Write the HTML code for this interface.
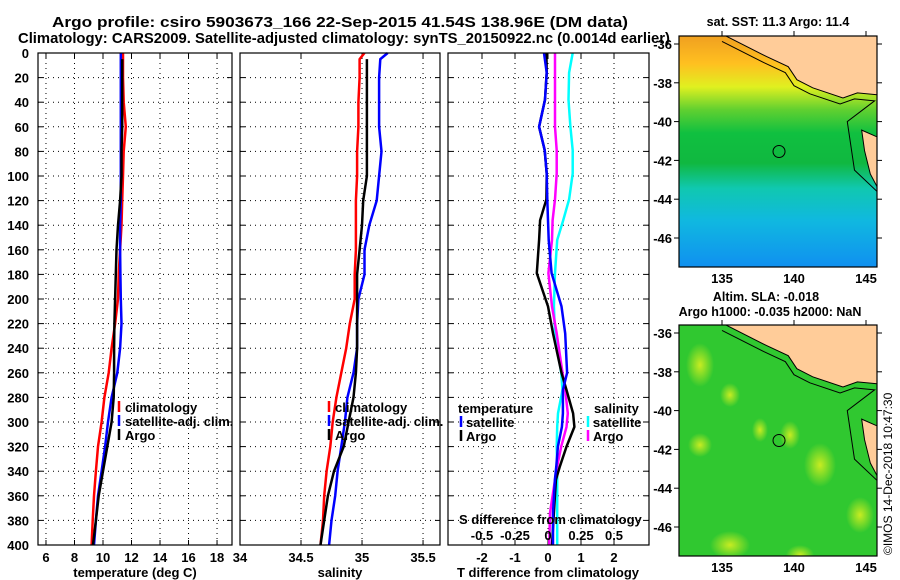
<!DOCTYPE html>
<html><head><meta charset="utf-8">
<style>
body{margin:0;background:#fff;}
svg{display:block;font-family:"Liberation Sans",sans-serif;font-weight:bold;}
</style></head>
<body>
<svg id="fig" width="900" height="580" viewBox="0 0 900 580" xmlns="http://www.w3.org/2000/svg">
<defs>
<linearGradient id="sstGrad" x1="0" y1="0" x2="0" y2="1">
<stop offset="0" stop-color="#f0a020"/><stop offset="0.12" stop-color="#ffc020"/>
<stop offset="0.22" stop-color="#e0f020"/><stop offset="0.32" stop-color="#60d030"/>
<stop offset="0.42" stop-color="#10c040"/><stop offset="0.55" stop-color="#10b840"/>
<stop offset="0.66" stop-color="#10c8b0"/><stop offset="0.8" stop-color="#10b8e0"/>
<stop offset="1" stop-color="#1090f0"/></linearGradient>
<radialGradient id="blob"><stop offset="0" stop-color="#d8f020" stop-opacity="0.9"/><stop offset="1" stop-color="#d8f020" stop-opacity="0"/></radialGradient>
<clipPath id="clipTop"><rect x="679" y="36" width="198" height="231"/></clipPath>
<clipPath id="clipBot"><rect x="679" y="325" width="198" height="231"/></clipPath>
</defs>
<text x="52" y="27" font-size="15" textLength="576" lengthAdjust="spacingAndGlyphs">Argo profile: csiro 5903673_166 22-Sep-2015 41.54S 138.96E (DM data)</text>
<text x="18" y="43" font-size="15" textLength="652" lengthAdjust="spacingAndGlyphs">Climatology: CARS2009. Satellite-adjusted climatology: synTS_20150922.nc (0.0014d earlier)</text>
<g id="plots"></g>
<text x="778" y="26" text-anchor="middle" font-size="12.5">sat. SST: 11.3 Argo: 11.4</text>
<text x="766" y="301" text-anchor="middle" font-size="12.5">Altim. SLA: -0.018</text>
<text x="770" y="316" text-anchor="middle" font-size="12.5">Argo h1000: -0.035 h2000: NaN</text>
<text transform="translate(892,555) rotate(-90)" font-size="12" font-weight="normal">©IMOS 14-Dec-2018 10:47:30</text>
</svg>
<script>
// ---- profile data ----
const depthsClim = [0,5,20,40,60,80,100,120,140,160,180,200,220,240,260,280,300,320,340,360,380,400];
const depthsArgo = [5,20,40,60,80,100,120,140,160,180,200,220,240,260,280,300,320,340,360,380,400];
const tempClim = [11.4,11.4,11.4,11.45,11.6,11.45,11.4,11.35,11.3,11.2,11.1,11.05,10.85,10.6,10.4,10.1,9.9,9.65,9.5,9.37,9.28,9.2];
const tempSat  = [11.25,11.25,11.25,11.25,11.25,11.25,11.25,11.25,11.2,11.2,11.22,11.25,11.3,11.2,11.0,10.6,10.35,10.15,9.9,9.65,9.5,9.37];
const tempArgo = [11.35,11.35,11.35,11.35,11.3,11.3,11.2,11.05,10.95,10.9,10.85,10.8,10.78,10.78,10.75,10.6,10.3,10.0,9.7,9.5,9.3];
const salClim = [35.02,34.98,34.98,34.97,34.97,34.96,34.96,34.95,34.95,34.95,34.94,34.94,34.9,34.87,34.83,34.79,34.76,34.74,34.71,34.69,34.68,34.66];
const salSat  = [35.21,35.15,35.14,35.14,35.14,35.16,35.14,35.12,35.06,35.02,35.02,34.97,34.96,34.96,34.93,34.88,34.86,34.83,34.80,34.78,34.75,34.73];
const salArgo = [35.04,35.04,35.04,35.04,35.04,35.04,35.01,35.0,34.98,34.96,34.96,34.96,34.96,34.95,34.93,34.89,34.85,34.77,34.72,34.69,34.66];
const depthsDiff = [0,16,38,60,79,98,119,136,152,179,206,228,260,274,293,304,320,336,347,374,400];
const tDiffSat  = [-0.12,-0.04,-0.09,-0.27,-0.1,-0.04,-0.02,0,0.02,0.11,0.41,0.52,0.58,0.45,0.45,0.42,0.3,0.25,0.21,0.15,0.15];
const tDiffArgo = [-0.05,-0.04,-0.09,-0.27,-0.1,-0.04,-0.05,-0.24,-0.27,-0.34,0,0.15,0.41,0.56,0.76,0.8,0.56,0.36,0.24,0.18,0.12];
const sDiffSat  = [0.187,0.16,0.155,0.17,0.187,0.187,0.16,0.115,0.07,0.053,0.045,0.053,0.1,0.11,0.076,0.07,0.066,0.07,0.07,0.07,0.07];
const sDiffArgo = [0.053,0.053,0.053,0.053,0.066,0.066,0.053,0.035,0.03,0.003,0.03,0.066,0.11,0.13,0.15,0.14,0.1,0.07,0.053,0.015,0.01];
const depthTicks = [0,20,40,60,80,100,120,140,160,180,200,220,240,260,280,300,320,340,360,380,400];
const tempTicks = [6,8,10,12,14,16,18];
const salTicks = [34,34.5,35,35.5];
const tDiffTicks = [-2,-1,0,1,2];
const sDiffTicks = [-0.5,-0.25,0,0.25,0.5];
const sDiffTickLabels = ["-0.5","-0.25","0","0.25","0.5"];
const mapLonTicks = [135,140,145];
const mapLatTicks = [-36,-38,-40,-42,-44,-46];
// land outline (lon, lat)
const coastLon = [135.2,138.1,139.6,140.2,141.3,143.4,144.4,145.8];
const coastLat = [-35.56,-36.65,-37.17,-37.84,-38.26,-38.78,-38.52,-38.62];
const tasLon = [144.7,145.8,145.8,145.3,144.9];
const tasLat = [-40.44,-40.8,-43.4,-42.7,-41.5];
const argoLon = 138.96, argoLat = -41.54;

const NS='http://www.w3.org/2000/svg';
const root=document.getElementById('plots');
function el(tag,attrs,parent){const e=document.createElementNS(NS,tag);for(const k in attrs)e.setAttribute(k,attrs[k]);(parent||root).appendChild(e);return e;}
const Y0=53,Y1=545;
const yD=d=>Y0+(d/400)*(Y1-Y0);

function panel(name,x0,x1,vmin,vmax,ticks,labels){
  const g=el('g',{});
  
  
  const xs=v=>x0+(v-vmin)/(vmax-vmin)*(x1-x0);
  el('rect',{x:x0,y:Y0,width:x1-x0,height:Y1-Y0,fill:'#fff',stroke:'none'},g);
  depthTicks.forEach(d=>{ if(d>0&&d<400){
    const l=el('line',{x1:x0,x2:x1,y1:yD(d),y2:yD(d),stroke:'#000','stroke-width':1,'stroke-dasharray':'1,4'},g);
    
    
    el('line',{x1:x0,x2:x0+5,y1:yD(d),y2:yD(d),stroke:'#000'},g);
    el('line',{x1:x1-5,x2:x1,y1:yD(d),y2:yD(d),stroke:'#000'},g);
  }});
  ticks.forEach((t,i)=>{
    const x=xs(t);
    if(x>x0+1&&x<x1-1){
      const l=el('line',{x1:x,x2:x,y1:Y0,y2:Y1,stroke:'#000','stroke-width':1,'stroke-dasharray':'1,4'},g);
      
      
      el('line',{x1:x,x2:x,y1:Y0,y2:Y0+5,stroke:'#000'},g);
      el('line',{x1:x,x2:x,y1:Y1-5,y2:Y1,stroke:'#000'},g);
    }
    const tx=el('text',{x:x,y:Y1+17,'text-anchor':'middle','font-size':13},g);
    tx.textContent=labels?labels[i]:String(t);
    
    
  });
  return {g,xs,x0,x1};
}
function series(p,depths,vals,color,name,scale){
  const pts=vals.map((v,i)=>(p.xs(v*(scale||1))).toFixed(1)+','+yD(depths[i]).toFixed(1)).join(' ');
  const pl=el('polyline',{points:pts,fill:'none',stroke:color,'stroke-width':2.5,'stroke-linejoin':'round'},p.g);
  
  
}
function frame(p){el('rect',{x:p.x0,y:Y0,width:p.x1-p.x0,height:Y1-Y0,fill:'none',stroke:'#000','stroke-width':1.2},p.g);}
function legendItem(g,x,y,color,label,mx){
  el('line',{x1:mx,x2:mx,y1:y-11,y2:y,stroke:color,'stroke-width':2.5},g);
  const t=el('text',{x:x,y:y,'font-size':13},g);t.textContent=label;
  
  
}

// Panel 1 temperature
const p1=panel('temperature-panel',38,232,5.44,19.05,tempTicks);
series(p1,depthsClim,tempClim,'#ff0000','temp-climatology-line');
series(p1,depthsClim,tempSat,'#0000ff','temp-satellite-line');
series(p1,depthsArgo,tempArgo,'#000000','temp-argo-line');
frame(p1);
legendItem(p1.g,125,412,'#ff0000','climatology',119);
legendItem(p1.g,125,426,'#0000ff','satellite-adj. clim.',119);
legendItem(p1.g,125,440,'#000000','Argo',119);
depthTicks.forEach(d=>{const t=el('text',{x:29,y:yD(d)+5,'text-anchor':'end','font-size':13});t.textContent=d;
  
  });

// Panel 2 salinity
const p2=panel('salinity-panel',240,440,34,35.639,salTicks);
series(p2,depthsClim,salClim,'#ff0000','sal-climatology-line');
series(p2,depthsClim,salSat,'#0000ff','sal-satellite-line');
series(p2,depthsArgo,salArgo,'#000000','sal-argo-line');
frame(p2);
legendItem(p2.g,335,412,'#ff0000','climatology',329);
legendItem(p2.g,335,426,'#0000ff','satellite-adj. clim.',329);
legendItem(p2.g,335,440,'#000000','Argo',329);

// Panel 3 differences
const p3=panel('difference-panel',448,649,-3.03,3.06,tDiffTicks);
series(p3,depthsDiff,sDiffSat,'#00ffff','s-diff-satellite-line',4);
series(p3,depthsDiff,sDiffArgo,'#ff00ff','s-diff-argo-line',4);
series(p3,depthsDiff,tDiffArgo,'#000000','t-diff-argo-line');
series(p3,depthsDiff,tDiffSat,'#0000ff','t-diff-satellite-line');
frame(p3);
let tt=el('text',{x:458,y:413,'font-size':13},p3.g);tt.textContent='temperature';
legendItem(p3.g,466,427,'#0000ff','satellite',461);
legendItem(p3.g,466,441,'#000000','Argo',461);
tt=el('text',{x:594,y:413,'font-size':13},p3.g);tt.textContent='salinity';
legendItem(p3.g,593,427,'#00ffff','satellite',588);
legendItem(p3.g,593,441,'#ff00ff','Argo',588);
tt=el('text',{x:459,y:524,'font-size':13},p3.g);tt.textContent='S difference from climatology';
sDiffTicks.forEach((s,i)=>{const t=el('text',{x:p3.xs(s*4),y:540,'text-anchor':'middle','font-size':13},p3.g);t.textContent=sDiffTickLabels[i];
  
  });

[['temperature (deg C)',135,'temperature-axis-title'],['salinity',340,'salinity-axis-title'],['T difference from climatology',548,'t-diff-axis-title']].forEach(a=>{
  const t=el('text',{x:a[1],y:577,'text-anchor':'middle','font-size':13});t.textContent=a[0];
  
  });

// Maps
function map(name,top,kind){
  const g=el('g',{});
  
  
  const X=lon=>722+(lon-135)*14.4;
  const Yl=lat=>top+8+(-36-lat)*19.4;
  const clip=kind==='sst'?'url(#clipTop)':'url(#clipBot)';
  const c=el('g',{'clip-path':clip},g);
  if(kind==='sst'){
    el('rect',{x:679,y:top,width:198,height:231,fill:'url(#sstGrad)'},c);
  } else {
    el('rect',{x:679,y:top,width:198,height:231,fill:'#30c830'},c);
    [[700,40,14,22],[730,70,10,12],[790,110,10,14],[820,140,16,22],[860,190,14,18],[730,220,20,14],[760,105,8,12],[700,120,12,12],[800,230,14,10]].forEach(b=>{
      el('ellipse',{cx:b[0],cy:top+b[1],rx:b[2],ry:b[3],fill:'url(#blob)'},c);});
  }
  let pts=coastLon.map((lo,i)=>X(lo)+','+Yl(coastLat[i])).join(' ');
  pts+=' 877,'+Yl(coastLat[coastLat.length-1])+' 877,'+top+' '+X(coastLon[0])+','+top;
  const land=el('polygon',{points:pts,fill:'#ffcc99',stroke:'#000','stroke-width':1},c);
  
  
  const tas=el('polygon',{points:tasLon.map((lo,i)=>X(lo)+','+Yl(tasLat[i])).join(' '),fill:'#ffcc99',stroke:'#000','stroke-width':1},c);
  
  
  const iso=coastLon.map((lo,i)=>X(lo-0.2)+','+(Yl(coastLat[i])+6)).join(' ')+' '+X(143.7)+','+Yl(-40)+' '+X(144.2)+','+Yl(-42.5)+' 877,'+Yl(-43.6);
  el('polyline',{points:iso,fill:'none',stroke:'#000','stroke-width':1},c);
  const circ=el('circle',{cx:X(argoLon),cy:Yl(argoLat),r:6,fill:'none',stroke:'#000','stroke-width':1},g);
  
  
  el('rect',{x:679,y:top,width:198,height:231,fill:'none',stroke:'#000','stroke-width':1.2},g);
  mapLonTicks.forEach(lo=>{
    el('line',{x1:X(lo),x2:X(lo),y1:top-5,y2:top,stroke:'#000'},g);
    const t=el('text',{x:X(lo),y:top+247,'text-anchor':'middle','font-size':13},g);t.textContent=lo;
    
    
  });
  mapLatTicks.forEach(la=>{
    el('line',{x1:674,x2:679,y1:Yl(la),y2:Yl(la),stroke:'#000'},g);
    el('line',{x1:877,x2:882,y1:Yl(la),y2:Yl(la),stroke:'#000'},g);
    const t=el('text',{x:672,y:Yl(la)+5,'text-anchor':'end','font-size':13},g);t.textContent=la;
    
    
  });
}
map('sst-map',36,'sst');
map('sla-map',325,'sla');
</script>
</body></html>
